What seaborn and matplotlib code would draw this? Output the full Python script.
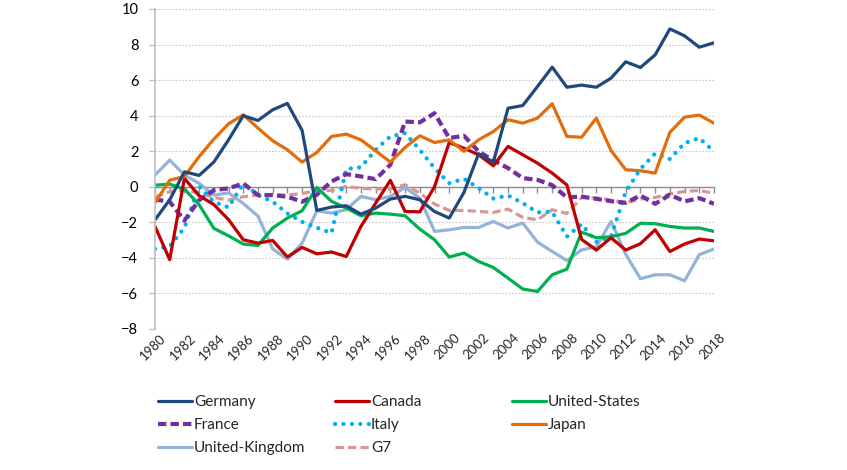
import numpy as np
import pandas as pd
import matplotlib
matplotlib.use('Agg')
import matplotlib.pyplot as plt
import matplotlib.transforms as mtransforms
from matplotlib.lines import Line2D
import seaborn as sns

years = list(range(1980, 2019))

germany = [-1.86, -0.73, 0.84, 0.64, 1.39, 2.64, 4.0, 3.73, 4.33, 4.69,
           3.17, -1.33, -1.14, -1.07, -1.54, -1.2, -0.69, -0.54, -0.73, -1.39,
           -1.76, -0.32, 1.86, 1.39, 4.42, 4.57, 5.64, 6.73, 5.6, 5.72,
           5.6, 6.11, 7.03, 6.71, 7.42, 8.88, 8.49, 7.85, 8.1]
canada = [-2.23, -4.1, 0.47, -0.5, -1.0, -1.85, -2.98, -3.17, -3.02, -3.95,
          -3.41, -3.77, -3.67, -3.92, -2.23, -0.92, 0.36, -1.39, -1.41, 0.0,
          2.49, 2.17, 1.8, 1.18, 2.27, 1.8, 1.33, 0.77, 0.1, -2.96,
          -3.56, -2.87, -3.56, -3.2, -2.42, -3.64, -3.22, -2.94, -3.04]
united_states = [0.09, 0.15, -0.13, -1.01, -2.34, -2.76, -3.22, -3.3, -2.32, -1.76,
                 -1.35, -0.04, -0.82, -1.2, -1.63, -1.48, -1.54, -1.63, -2.38, -2.98,
                 -3.95, -3.73, -4.2, -4.54, -5.14, -5.75, -5.89, -4.95, -4.63, -2.55,
                 -2.87, -2.81, -2.62, -2.05, -2.08, -2.23, -2.32, -2.32, -2.51]
france = [-0.71, -0.84, -1.9, -0.75, -0.19, -0.09, 0.19, -0.47, -0.47, -0.56,
          -0.84, -0.45, 0.3, 0.71, 0.58, 0.43, 1.24, 3.67, 3.62, 4.14,
          2.74, 2.87, 1.99, 1.48, 1.05, 0.49, 0.39, 0.09, -0.6, -0.55,
          -0.68, -0.81, -0.9, -0.49, -0.96, -0.45, -0.82, -0.64, -0.96]
italy = [-3.5, -3.35, -2.3, 0.04, -0.85, -1.16, 0.19, -0.47, -0.84, -1.5,
         -1.97, -2.3, -2.6, 1.0, 1.1, 2.08, 2.83, 3.02, 2.08, 1.05,
         0.2, 0.45, -0.07, -0.66, -0.49, -0.92, -1.44, -1.41, -2.8, -2.1,
         -3.1, -2.81, -0.28, 1.0, 1.87, 1.56, 2.46, 2.74, 1.99]
japan = [-0.9, 0.37, 0.58, 1.7, 2.68, 3.54, 4.05, 3.3, 2.59, 2.08,
         1.39, 1.93, 2.83, 2.96, 2.64, 2.02, 1.39, 2.21, 2.87, 2.49,
         2.64, 1.99, 2.64, 3.11, 3.77, 3.58, 3.86, 4.67, 2.83, 2.79,
         3.86, 2.04, 0.96, 0.9, 0.77, 3.06, 3.92, 4.03, 3.58]
united_kingdom = [0.66, 1.5, 0.66, 0.19, -0.47, -0.34, -0.94, -1.65, -3.5, -4.07,
                  -3.17, -1.35, -1.48, -1.29, -0.54, -0.73, -0.54, -0.04, -0.64, -2.51,
                  -2.42, -2.29, -2.29, -1.95, -2.32, -2.04, -3.11, -3.64, -4.15, -3.55,
                  -3.38, -1.95, -3.8, -5.17, -4.95, -4.95, -5.29, -3.82, -3.5]
g7 = [-0.56, -0.28, -0.19, -0.34, -0.6, -0.75, -0.56, -0.47, -0.43, -0.47,
      -0.38, -0.21, -0.21, 0.02, -0.09, -0.13, -0.11, 0.11, -0.36, -0.97,
      -1.33, -1.33, -1.39, -1.44, -1.26, -1.72, -1.86, -1.29, -1.5, -0.62,
      -0.62, -0.75, -0.9, -0.69, -0.6, -0.41, -0.26, -0.21, -0.36]

series_names = ['Germany', 'Canada', 'United-States', 'France', 'Italy',
                'Japan', 'United-Kingdom', 'G7']
df = pd.DataFrame({'Year': years, 'Germany': germany, 'Canada': canada,
                   'United-States': united_states, 'France': france,
                   'Italy': italy, 'Japan': japan,
                   'United-Kingdom': united_kingdom, 'G7': g7})

styles = {
    'Germany': dict(color='#1F497D', lw=2.3),
    'Canada': dict(color='#C00000', lw=2.3),
    'United-States': dict(color='#00B050', lw=2.3),
    'France': dict(color='#7030A0', lw=3.0, dashes=(2.0, 1.0)),
    'Italy': dict(color='#00B0F0', lw=3.1, dashes=(0.01, 1.95)),
    'Japan': dict(color='#E46C0A', lw=2.3),
    'United-Kingdom': dict(color='#95B3D7', lw=2.3),
    'G7': dict(color='#D99694', lw=2.3, dashes=(2.6, 1.3)),
}
draw_order = ['G7', 'United-Kingdom', 'Italy', 'France', 'United-States',
              'Canada', 'Japan', 'Germany']

sns.set_theme(style='white')
plt.rcParams['font.family'] = ['Lato', 'DejaVu Sans']

fig = plt.figure(figsize=(8.47, 4.70), dpi=100)
ax = fig.add_axes([155 / 847, 1 - 329 / 470, 559 / 847, 320 / 470])

handles = {}
for name in draw_order:
    st = styles[name]
    sns.lineplot(data=df, x='Year', y=name, ax=ax, color=st['color'],
                 linewidth=st['lw'], legend=False)
    line = ax.lines[-1]
    if 'dashes' in st:
        line.set_dashes(st['dashes'])
    if name == 'Italy':
        line.set_dash_capstyle('round')
    handles[name] = Line2D([], [], color=st['color'], lw=st['lw'],
                           dashes=st.get('dashes', (None, None)),
                           dash_capstyle='round' if name == 'Italy' else 'butt')

ax.set_xlim(1980, 2018)
ax.set_ylim(-8, 10)
ax.set_yticks(range(-8, 11, 2))
ax.set_xlabel('')
ax.set_ylabel('')
ax.yaxis.grid(True, color='#C8C8C8', linestyle=(0, (1.5, 1.5)), linewidth=0.8)
ax.set_axisbelow(True)

# x axis drawn at zero with yearly ticks
ax.spines['bottom'].set_position(('data', 0))
ax.spines['bottom'].set_color('#8C8C8C')
ax.spines['bottom'].set_linewidth(1.0)
ax.spines['bottom'].set_zorder(1)
ax.spines['top'].set_visible(False)
ax.spines['right'].set_visible(False)
ax.spines['left'].set_color('#BFBFBF')
ax.spines['left'].set_linewidth(1.2)
ax.set_xticks(years)
ax.tick_params(axis='x', bottom=True, length=4, width=1, color='#8C8C8C',
               direction='out', labelbottom=False)
ax.tick_params(axis='y', left=True, length=4, width=1, color='#BFBFBF',
               direction='out', pad=8, labelsize=10.5, labelcolor='black')

sec = ax.secondary_xaxis('bottom')
sec.set_xticks(years[::2])
sec.set_xticklabels([str(y) for y in years[::2]], rotation=45, ha='right',
                    va='center', rotation_mode='anchor', fontsize=9.5)
sec.tick_params(axis='x', length=0, pad=5)
sec.spines['bottom'].set_visible(False)
shift = mtransforms.ScaledTranslation(9 / 100, 0, fig.dpi_scale_trans)
for lab in sec.get_xticklabels():
    lab.set_transform(lab.get_transform() + shift)

# legend in three columns
columns = [['Germany', 'France', 'United-Kingdom'],
           ['Canada', 'Italy', 'G7'],
           ['United-States', 'Japan']]
col_x = [158, 335, 512]
for cx, col in zip(col_x, columns):
    fig.legend([handles[n] for n in col], col, loc='upper left',
               bbox_to_anchor=(cx / 847, 1 - 395 / 470), frameon=False,
               fontsize=11, handlelength=2.2, handletextpad=0.15,
               labelspacing=0.6, borderpad=0, borderaxespad=0)

fig.savefig('out.png', dpi=100)
plt.close(fig)
